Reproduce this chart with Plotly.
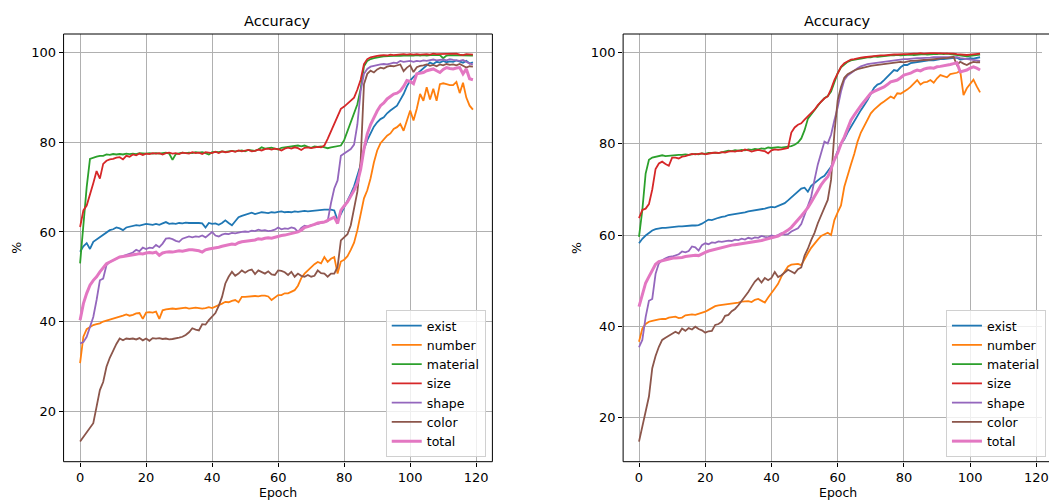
import plotly.graph_objects as go

# ---------------- data: left panel (epochs 0..119) ----------------
left_epochs = list(range(120))

left_exist = [55.6, 56.8, 57.5, 56.2, 57.8, 58.3, 58.8, 59.2, 59.8, 60.4, 60.6, 61.0, 60.8, 60.4, 61.0, 61.2, 61.3, 61.5, 61.4, 61.6,
              61.8, 61.7, 61.6, 61.8, 61.6, 61.9, 62.2, 61.8, 61.9, 61.8, 62.0, 61.9, 62.1, 62.0, 62.0, 62.1, 62.0, 61.9, 61.0, 62.0,
              61.8, 61.9, 61.6, 62.0, 62.6, 62.0, 61.5, 62.4, 63.3, 63.6, 63.8, 64.1, 64.3, 64.0, 64.2, 64.4, 64.3, 64.2, 64.4, 64.3,
              64.5, 64.6, 64.4, 64.5, 64.4, 64.6, 64.5, 64.6, 64.7, 64.6, 64.7, 64.8, 64.8, 64.9, 65.0, 65.0, 65.0, 64.8, 62.6, 64.0,
              65.5, 66.8, 68.5, 70.2, 72.4, 75.0, 78.5, 80.5, 82.0, 83.5, 84.5, 85.2, 85.6, 86.5, 87.1, 87.6, 88.2, 89.5, 90.8, 92.5,
              93.8, 94.6, 95.3, 96.0, 96.7, 97.2, 97.8, 97.5, 98.0, 97.8, 98.2, 97.9, 98.1, 98.0, 98.3, 98.0, 97.8, 98.2, 97.6, 97.9]

left_number = [30.7, 36.6, 38.3, 38.8, 39.2, 39.4, 39.6, 40.0, 40.2, 40.4, 40.7, 40.8, 41.0, 41.3, 41.6, 41.3, 41.5, 41.8, 41.9, 40.6,
               42.0, 42.1, 42.0, 42.2, 40.6, 42.5, 42.7, 42.8, 42.9, 42.8, 42.9, 43.0, 43.1, 42.9, 43.0, 43.1, 43.0, 42.9, 43.0, 43.2,
               43.0, 43.3, 43.7, 44.0, 44.4, 44.3, 44.6, 44.8, 44.3, 45.5, 45.5, 45.6, 45.7, 45.7, 45.6, 45.8, 45.8, 45.6, 44.8, 45.4,
               45.9, 45.9, 46.3, 46.3, 46.6, 47.0, 48.0, 49.7, 50.7, 51.4, 52.2, 52.8, 53.3, 53.0, 54.4, 53.3, 54.0, 54.4, 50.7, 53.4,
               53.8, 54.6, 56.0, 57.6, 60.4, 64.0, 67.5, 69.3, 72.0, 75.5, 78.2, 79.8, 80.6, 81.5, 82.0, 83.0, 83.4, 84.1, 82.6, 84.9,
               87.1, 84.9, 87.5, 90.8, 89.3, 92.3, 89.6, 92.0, 89.3, 93.0, 93.2, 93.0, 92.8, 92.8, 93.5, 91.0, 93.3, 90.0, 88.2, 87.3]

left_material = [53.0, 61.5, 70.0, 76.3, 76.6, 76.8, 77.0, 77.0, 77.3, 77.2, 77.4, 77.3, 77.4, 77.3, 77.5, 77.4, 77.5, 77.4, 77.6, 77.5,
                 77.5, 77.6, 77.5, 77.6, 77.5, 77.6, 77.7, 77.5, 76.1, 77.4, 77.6, 77.7, 77.6, 77.7, 77.6, 77.8, 77.7, 77.8, 77.6, 77.3,
                 77.8, 77.9, 77.8, 78.0, 77.9, 78.0, 78.1, 78.0, 78.1, 78.2, 78.0, 78.3, 78.2, 78.1, 78.4, 78.9, 78.6, 78.7, 78.8, 78.6,
                 78.4, 78.8, 78.9, 79.0, 79.1, 79.2, 79.3, 79.1, 79.3, 79.0, 78.8, 79.1, 79.0, 79.1, 78.9, 78.7, 78.9, 79.0, 79.2, 79.3,
                 80.5, 82.6, 84.2, 86.4, 88.5, 92.0, 97.0, 98.2, 98.6, 98.8, 99.0, 99.1, 99.2, 99.2, 99.3, 99.3, 99.4, 99.3, 99.4, 99.4,
                 99.3, 99.4, 99.5, 99.4, 99.5, 99.4, 99.5, 99.5, 99.4, 99.5, 98.8, 99.4, 99.5, 99.5, 99.4, 99.5, 99.5, 99.4, 99.5, 99.4]

left_size = [61.1, 64.8, 65.9, 68.2, 70.9, 73.6, 71.9, 75.2, 75.9, 76.2, 76.3, 76.6, 76.7, 76.2, 77.0, 76.8, 77.3, 77.1, 77.5, 77.2,
             77.5, 77.4, 77.6, 77.5, 77.6, 77.3, 77.6, 77.7, 77.5, 77.6, 77.4, 77.7, 77.6, 77.5, 77.8, 77.6, 77.7, 77.4, 77.8, 77.7,
             77.6, 77.9, 77.6, 78.0, 77.8, 77.9, 78.1, 77.9, 78.2, 78.0, 78.1, 78.3, 78.0, 78.1, 78.4, 78.2, 78.5, 78.6, 78.4, 78.6,
             78.5, 78.2, 78.6, 78.8, 78.6, 78.9, 78.7, 78.3, 78.8, 78.9, 78.7, 78.9, 79.0, 78.9, 79.3, 80.8, 82.5, 84.2, 85.8, 87.5,
             88.0, 88.6, 89.2, 90.0, 91.8, 94.0, 97.5, 98.6, 99.0, 99.2, 99.3, 99.4, 99.5, 99.4, 99.6, 99.5, 99.6, 99.6, 99.7, 99.6,
             99.7, 99.6, 99.7, 99.6, 99.7, 99.7, 99.6, 99.8, 99.7, 99.7, 99.8, 99.7, 99.8, 99.7, 99.8, 99.6, 99.5, 99.7, 99.6, 99.6]

left_shape = [35.1, 35.4, 36.6, 38.8, 41.0, 44.8, 49.2, 49.6, 52.6, 53.3, 53.7, 54.1, 54.4, 54.6, 54.9, 55.2, 55.4, 56.0, 55.7, 56.5,
              56.2, 56.5, 56.4, 57.1, 56.6, 57.4, 58.5, 58.6, 58.4, 58.0, 57.8, 58.5, 58.8, 59.0, 58.8, 59.0, 58.9, 59.2, 58.8, 59.3,
              60.0, 59.2, 59.0, 59.4, 59.6, 59.5, 59.8, 59.7, 59.9, 60.0, 60.1, 60.0, 60.3, 60.2, 60.5, 60.3, 60.4, 60.2, 60.3, 60.5,
              61.0, 60.6, 60.8, 60.7, 61.0, 60.8, 60.0, 60.9, 61.4, 61.2, 61.5, 61.6, 61.8, 62.0, 62.2, 62.4, 66.4, 69.7, 71.5, 77.0,
              77.5, 78.0, 78.5, 79.5, 84.0, 91.5, 95.3, 96.4, 96.9, 97.1, 97.3, 97.4, 97.5, 97.4, 97.6, 97.8, 97.7, 98.2, 98.0, 98.1,
              98.2, 98.0, 98.2, 98.1, 98.3, 98.2, 98.4, 98.5, 98.3, 98.4, 98.5, 98.3, 98.6, 98.4, 98.3, 98.2, 98.4, 98.0, 97.6, 97.4]

left_color = [13.2, 14.2, 15.1, 16.3, 17.3, 21.0, 24.7, 26.5, 29.9, 31.9, 33.6, 35.0, 36.2, 35.8, 36.2, 36.1, 36.2, 36.0, 36.3, 35.8,
              36.2, 35.7, 36.3, 36.2, 36.3, 36.1, 36.2, 36.0, 36.1, 36.2, 36.4, 36.6, 37.0, 37.6, 38.5, 38.2, 38.0, 39.4, 39.3, 40.3,
              41.0, 41.9, 43.5, 45.5, 48.5, 50.0, 51.1, 50.2, 50.7, 51.4, 50.9, 51.4, 51.6, 50.6, 51.4, 51.0, 50.7, 51.2, 50.5, 50.4,
              51.4, 51.3, 51.0, 50.4, 51.1, 50.0, 50.7, 50.2, 50.0, 50.4, 50.0, 50.2, 51.4, 50.8, 50.7, 50.0, 50.7, 50.7, 52.2, 58.1,
              58.8, 59.5, 61.5, 65.5, 69.0, 76.0, 93.0, 95.3, 96.0, 95.6, 96.3, 96.7, 96.5, 96.9, 97.1, 97.0, 97.2, 97.4, 95.9, 96.7,
              97.2, 95.7, 96.8, 97.1, 97.2, 97.4, 97.1, 97.3, 97.0, 97.4, 97.2, 97.5, 97.3, 97.4, 97.2, 97.5, 97.1, 96.7, 97.0, 96.9]

left_total = [40.3, 44.0, 46.3, 48.1, 49.2, 50.0, 51.1, 52.0, 52.9, 53.3, 53.7, 54.0, 54.4, 54.5, 54.6, 54.8, 54.9, 55.0, 55.2, 55.1,
              55.3, 55.4, 55.3, 55.5, 54.8, 55.3, 55.5, 55.6, 55.5, 55.7, 55.8, 55.7, 55.9, 56.0, 56.0, 55.9, 55.8, 55.5, 56.0, 56.2,
              56.3, 56.4, 56.6, 56.8, 57.0, 57.1, 57.3, 57.2, 57.6, 57.8, 57.9, 58.0, 58.1, 58.2, 58.5, 58.4, 58.6, 58.7, 58.6, 58.8,
              59.1, 59.2, 59.3, 59.5, 59.6, 59.8, 60.0, 60.4, 61.0, 61.2, 61.4, 61.7, 62.0, 62.1, 62.2, 62.6, 63.0, 63.3, 61.9, 64.8,
              65.8, 66.7, 68.0, 69.3, 71.0, 74.0, 78.5, 81.9, 84.0, 85.6, 87.0, 88.2, 88.8, 89.7, 90.2, 90.8, 91.0, 91.5, 92.5, 93.8,
              93.6, 93.1, 95.3, 95.5, 95.6, 96.0, 96.2, 96.4, 96.0, 95.6, 96.3, 96.7, 96.5, 96.4, 96.6, 96.7, 95.3, 96.4, 94.2, 94.0]

# ---------------- data: right panel (epochs 0..103) ----------------
right_epochs = list(range(104))

right_exist = [58.2, 59.2, 59.9, 60.5, 61.0, 61.3, 61.5, 61.6, 61.6, 61.7, 61.8, 61.8, 61.9, 61.9, 62.0, 62.0, 62.1, 62.1, 62.2, 62.5,
               63.0, 63.4, 63.3, 63.6, 63.8, 64.0, 64.1, 64.4, 64.5, 64.6, 64.8, 64.9, 65.0, 65.2, 65.3, 65.4, 65.5, 65.7, 65.8, 66.0,
               66.2, 66.1, 66.4, 66.6, 67.0, 67.6, 68.3, 69.0, 69.6, 70.2, 70.4, 69.5, 70.8, 71.5, 72.0, 72.6, 73.0, 74.0, 75.0, 76.5,
               78.5, 80.0, 81.0, 82.5, 83.8, 84.8, 86.2, 87.4, 88.5, 89.6, 91.0, 92.3, 93.0, 93.3, 94.0, 94.7, 95.3, 96.2, 96.0, 96.8,
               97.3, 97.3, 97.7, 97.8, 97.9, 98.0, 98.1, 98.3, 98.4, 98.3, 98.5, 98.6, 98.6, 98.7, 98.7, 98.8, 98.9, 98.5, 98.6, 98.7,
               98.8, 98.7, 98.9, 99.0]

right_number = [36.6, 39.5, 40.5, 41.0, 41.2, 41.4, 41.5, 41.6, 41.6, 41.9, 42.0, 42.1, 41.8, 41.9, 42.4, 42.5, 42.6, 42.5, 42.7, 43.0,
                43.2, 43.6, 44.0, 44.4, 44.6, 44.7, 44.8, 44.9, 45.0, 45.0, 45.2, 45.4, 45.4, 45.5, 45.3, 45.8, 46.0, 45.6, 45.2, 46.3,
                47.2, 48.3, 49.3, 50.9, 52.0, 53.1, 53.5, 53.6, 53.7, 53.4, 54.8, 56.0, 57.2, 58.2, 59.0, 59.8, 60.2, 60.5, 60.0, 63.3,
                65.0, 66.5, 70.6, 72.8, 75.5, 77.8, 80.5, 82.5, 83.8, 85.3, 86.7, 87.5, 88.2, 88.8, 89.3, 89.8, 90.4, 90.0, 91.1, 91.0,
                91.4, 91.9, 92.5, 93.3, 94.0, 93.0, 93.5, 93.6, 94.0, 93.4, 94.4, 95.1, 94.8, 94.6, 95.3, 95.5, 95.6, 96.0, 90.7, 92.2,
                93.2, 94.1, 92.6, 91.3]

right_material = [59.6, 65.5, 73.5, 76.5, 77.0, 77.2, 77.4, 77.5, 77.3, 77.4, 77.5, 77.5, 77.6, 77.6, 77.7, 77.6, 77.7, 77.8, 77.7, 77.9,
                  77.8, 78.0, 78.0, 78.1, 78.0, 78.2, 78.3, 78.5, 78.4, 78.6, 78.5, 78.7, 78.6, 78.8, 78.7, 78.9, 78.8, 79.0, 78.9, 79.2,
                  79.1, 79.2, 79.3, 79.2, 79.3, 79.4, 79.5, 79.8, 80.3, 81.2, 83.0, 85.5, 86.5, 87.3, 88.3, 89.3, 90.0, 90.5, 91.5, 93.5,
                  95.5, 96.8, 97.5, 98.0, 98.3, 98.5, 98.6, 98.7, 98.9, 99.0, 99.0, 99.2, 99.1, 99.2, 99.3, 99.3, 99.4, 99.4, 99.5, 99.4,
                  99.5, 99.5, 99.6, 99.5, 99.6, 99.6, 99.7, 99.6, 99.7, 99.7, 99.7, 99.8, 99.7, 99.8, 99.7, 99.6, 99.5, 99.4, 99.3, 99.2,
                  99.3, 99.4, 99.5, 99.6]

right_size = [63.7, 65.5, 65.8, 66.8, 70.0, 74.5, 75.7, 76.1, 75.6, 75.2, 77.0, 77.0, 76.8, 77.2, 77.3, 77.5, 77.8, 77.7, 77.8, 77.9,
              77.7, 77.9, 78.0, 78.1, 78.0, 78.2, 78.1, 78.3, 78.4, 78.3, 78.5, 78.4, 78.8, 78.6, 78.3, 78.5, 78.7, 78.5, 78.4, 77.9,
              78.6, 78.8, 78.7, 78.8, 79.0, 79.1, 82.5, 83.6, 84.2, 84.5, 85.3, 86.0, 86.8, 87.5, 88.5, 89.2, 90.0, 90.4, 92.0, 94.0,
              95.6, 96.9, 97.7, 98.2, 98.5, 98.6, 98.8, 98.9, 99.0, 99.1, 99.2, 99.3, 99.3, 99.4, 99.4, 99.5, 99.5, 99.6, 99.6, 99.7,
              99.7, 99.7, 99.8, 99.8, 99.8, 99.9, 99.8, 99.9, 99.9, 99.9, 99.9, 99.9, 99.9, 99.9, 99.9, 99.8, 99.7, 99.6, 99.5, 99.5,
              99.6, 99.7, 99.8, 99.8]

right_shape = [35.4, 37.0, 42.0, 45.6, 46.0, 51.5, 53.8, 54.5, 54.9, 55.2, 55.3, 55.5, 55.8, 56.4, 56.2, 56.5, 57.5, 57.3, 56.6, 57.8,
               58.2, 58.0, 58.4, 58.3, 58.6, 58.5, 58.6, 58.8, 58.7, 59.0, 58.9, 59.2, 59.0, 59.4, 59.2, 59.5, 59.4, 59.8, 59.6, 59.5,
               59.9, 59.7, 60.0, 60.4, 60.1, 60.2, 60.8, 61.1, 61.5, 62.4, 64.5, 66.8, 68.4, 72.1, 75.5, 78.0, 80.5, 80.1, 82.0, 85.2,
               88.0, 91.5, 94.0, 95.0, 95.6, 96.2, 96.6, 97.0, 97.3, 97.5, 97.6, 97.7, 97.8, 98.0, 98.1, 98.2, 98.3, 98.4, 98.5, 98.5,
               98.6, 98.6, 98.7, 98.7, 98.8, 98.8, 98.8, 98.9, 98.9, 99.0, 99.0, 99.0, 99.1, 99.1, 99.0, 99.0, 99.0, 98.8, 98.7, 98.6,
               98.5, 98.4, 98.3, 98.2]

right_color = [14.7, 18.0, 21.5, 24.6, 30.8, 33.5, 35.5, 37.0, 37.5, 38.0, 38.5, 38.8, 38.4, 39.5, 39.0, 39.6, 39.3, 39.9, 39.4, 39.1,
               38.6, 38.9, 39.0, 40.3, 40.5, 41.0, 42.3, 42.5, 43.3, 43.8, 44.6, 45.5, 46.5, 47.5, 48.7, 49.8, 50.5, 49.6, 50.6, 50.1,
               50.6, 51.9, 50.8, 51.2, 51.8, 52.4, 52.0, 51.6, 52.5, 52.9, 55.5, 57.0, 58.9, 60.5, 62.6, 64.5, 66.0, 67.7, 72.1, 82.3,
               89.6, 92.5, 94.5, 95.3, 95.8, 96.1, 96.4, 96.6, 96.8, 97.0, 97.1, 97.2, 97.3, 97.4, 97.5, 97.6, 97.7, 97.8, 97.8, 98.0,
               97.9, 98.1, 98.2, 98.2, 98.3, 98.3, 98.4, 98.4, 98.5, 98.6, 98.6, 98.7, 98.8, 98.8, 98.9, 99.1, 97.3, 98.0, 97.6, 97.3,
               97.7, 98.0, 97.9, 97.9]

right_total = [44.3, 46.8, 49.5, 50.9, 52.3, 53.6, 54.2, 54.4, 54.6, 54.7, 54.9, 55.0, 55.0, 55.1, 55.3, 55.4, 55.5, 55.6, 55.5, 55.9,
               56.2, 56.5, 56.7, 56.9, 57.0, 57.2, 57.4, 57.6, 57.8, 57.9, 58.0, 58.2, 58.3, 58.4, 58.5, 58.6, 58.7, 58.8, 59.0, 59.2,
               59.4, 59.5, 59.8, 60.2, 60.6, 61.1, 61.7, 62.5, 63.2, 64.2, 65.1, 66.0, 67.2, 68.5, 70.0, 71.0, 72.0, 72.8, 74.5, 76.5,
               78.0, 80.0, 81.5, 83.5, 85.2, 86.3, 87.4, 88.4, 89.3, 90.2, 91.1, 91.5, 91.8, 92.2, 92.5, 93.0, 93.6, 93.8, 94.0, 94.5,
               95.1, 95.3, 95.5, 95.9, 96.2, 96.0, 96.4, 96.6, 96.7, 96.6, 96.9, 97.0, 97.1, 97.3, 97.4, 97.6, 97.8, 95.8, 96.0, 96.2,
               96.6, 96.9, 96.6, 96.2]

series_names = ["exist", "number", "material", "size", "shape", "color", "total"]
series_colors = ["#1f77b4", "#ff7f0e", "#2ca02c", "#d62728", "#9467bd", "#8c564b", "#e377c2"]
series_widths = [1.8, 1.8, 1.8, 1.8, 1.8, 1.8, 3.0]

left_series = [left_exist, left_number, left_material, left_size, left_shape, left_color, left_total]
right_series = [right_exist, right_number, right_material, right_size, right_shape, right_color, right_total]

# ---------------- figure ----------------
W, H = 1049, 501
FONT = "DejaVu Sans"

def px(x):
    return x / W

def py(y):
    return 1 - y / H

fig = go.Figure()

for name, color, width, ys in zip(series_names, series_colors, series_widths, left_series):
    fig.add_trace(go.Scatter(x=left_epochs, y=ys, mode="lines", name=name,
                             line=dict(color=color, width=width),
                             xaxis="x", yaxis="y", legend="legend"))

for name, color, width, ys in zip(series_names, series_colors, series_widths, right_series):
    fig.add_trace(go.Scatter(x=right_epochs, y=ys, mode="lines", name=name,
                             line=dict(color=color, width=width),
                             xaxis="x2", yaxis="y2", legend="legend2"))

L_x0, L_x1 = 64.0, 495.7
R_x0, R_x1 = 627.3, 1059.0
Y_top, Y_bot = 34.0, 461.7

axis_common = dict(
    showgrid=True, gridcolor="#b0b0b0", gridwidth=1,
    zeroline=False, showline=False,
    ticks="outside", ticklen=4, tickwidth=1, tickcolor="black",
    tickfont=dict(family=FONT, size=13, color="black"),
    ticklabeloverflow="allow",
)

legend_common = dict(
    bgcolor="rgba(255,255,255,0.8)", bordercolor="#d0d0d0", borderwidth=1,
    font=dict(family=FONT, size=12.5, color="black"), tracegroupgap=0,
)

fig.update_layout(
    width=W, height=H,
    margin=dict(l=0, r=0, t=0, b=0),
    paper_bgcolor="white", plot_bgcolor="white",
    font=dict(family=FONT, size=13, color="black"),
    xaxis=dict(domain=[px(L_x0), px(L_x1)], range=[-5.0, 124.9], anchor="y",
               tickvals=[0, 20, 40, 60, 80, 100, 120], **axis_common),
    yaxis=dict(domain=[py(Y_bot), py(Y_top)], range=[8.7, 104.2], anchor="x",
               tickvals=[20, 40, 60, 80, 100], **axis_common),
    xaxis2=dict(domain=[px(R_x0), 1.0], range=[-4.8, 121.7], anchor="y2",
                tickvals=[0, 20, 40, 60, 80, 100, 120], **axis_common),
    yaxis2=dict(domain=[py(Y_bot), py(Y_top)], range=[10.3, 104.1], anchor="x2",
                tickvals=[20, 40, 60, 80, 100], **axis_common),
    legend=dict(x=px(489), y=py(457), xanchor="right", yanchor="bottom", **legend_common),
    legend2=dict(x=px(952.3), y=py(457), xanchor="left", yanchor="bottom", **legend_common),
    showlegend=True,
)

# axes frames
for x0, x1 in [(L_x0, L_x1), (R_x0, R_x1)]:
    fig.add_shape(type="rect", xref="paper", yref="paper",
                  x0=px(x0), x1=px(x1), y0=py(Y_bot), y1=py(Y_top),
                  line=dict(color="black", width=1), fillcolor="rgba(0,0,0,0)", layer="above")

# titles and axis labels
for cx in [(L_x0 + L_x1) / 2, (R_x0 + R_x1) / 2]:
    fig.add_annotation(text="Accuracy", x=px(cx), y=py(21), xref="paper", yref="paper",
                       showarrow=False, font=dict(family=FONT, size=14.5, color="black"),
                       xanchor="center", yanchor="middle")
    fig.add_annotation(text="Epoch", x=px(cx), y=py(492.5), xref="paper", yref="paper",
                       showarrow=False, font=dict(family=FONT, size=12.5, color="black"),
                       xanchor="center", yanchor="middle")

for lx in [17, 581]:
    fig.add_annotation(text="%", x=px(lx), y=py((Y_top + Y_bot) / 2), xref="paper", yref="paper",
                       showarrow=False, textangle=-90, font=dict(family=FONT, size=12.5, color="black"),
                       xanchor="center", yanchor="middle")

fig.write_html(
    "out.html",
    config={"displayModeBar": False},
    post_script="document.body.style.margin='0';document.body.style.padding='0';document.body.style.overflow='hidden';",
)
